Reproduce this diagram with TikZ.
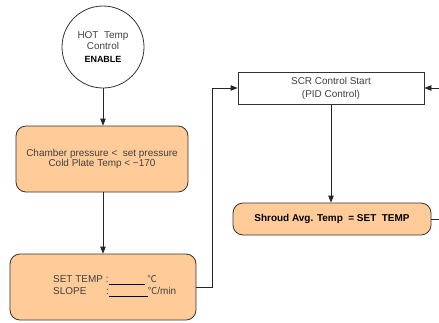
\documentclass[tikz,border=0pt]{standalone}
\usepackage{fontspec}
\setmainfont{Liberation Sans}
\newfontfamily\cjk{Noto Sans CJK SC}
\usetikzlibrary{arrows.meta}
\definecolor{peach}{HTML}{FFCC99}
\newcommand\degc{{\cjk\fontsize{9.5}{9.5}\selectfont ℃}}
\begin{document}
\begin{tikzpicture}[x=1bp, y=-1bp,
  font=\fontsize{10}{10}\selectfont,
  wire/.style={draw=black!85, line width=0.8bp},
  flow/.style={wire, -{Triangle[length=7bp,width=5.5bp]}},
  orangebox/.style={draw=black!80, line width=0.8bp, fill=peach,
    rounded corners=10bp, inner sep=0pt, text=black!75, align=center},
  plainbox/.style={draw=black!80, line width=0.8bp, fill=white,
    inner sep=0pt, text=black!75, align=center}]
\useasboundingbox (0,0) rectangle (439,322);

% start circle
\node[circle, draw=black!80, line width=0.8bp, minimum size=82bp, inner sep=0pt,
      align=center, text=black!75, font=\fontsize{10}{11}\selectfont] (hot) at (103,47)
  {HOT\ \ Temp\\Control\hspace*{8bp}\\[1.5bp]{\color{black}\fontsize{9}{9}\selectfont\bfseries ENABLE}};

% condition box
\node[orangebox, minimum width=172bp, minimum height=66bp] (cond) at (102,159)
  {Chamber pressure <\ \ set pressure\\Cold Plate Temp < −170};

% set-point box
\node[orangebox, minimum width=186bp, minimum height=66bp] (setb) at (103,287) {};
\node[anchor=west, inner sep=0pt, align=left, text=black!75,
      font=\fontsize{10}{12}\selectfont] (setlbl) at (53,286)
  {SET TEMP\ :\textcolor{black}{\rule[-1.5bp]{36bp}{0.7bp}}\ \degc\\
   \makebox[53bp][l]{SLOPE}:\textcolor{black}{\rule[-1.5bp]{39bp}{0.7bp}}\degc/min};

% SCR control box
\node[plainbox, minimum width=186bp, minimum height=32bp,
      font=\fontsize{10}{13}\selectfont] (scr) at (331,88)
  {SCR Control Start\\(PID Control)};

% shroud temperature check
\node[orangebox, minimum width=198bp, minimum height=32bp, text=black,
      font=\fontsize{10}{10}\selectfont\bfseries] (shroud) at (332,219)
  {Shroud Avg. Temp\ \ = SET\ \ TEMP};

% free ends on the right edge
\coordinate (rin) at (439,88);
\coordinate (rout) at (439,219);

% connectors
\draw[flow] (hot.south) -- (hot.south |- cond.north);
\draw[flow] (cond.south -| hot.south) -- (setb.north -| hot.south);
\draw[flow] (setb.east) -- ++(16,0) |- (scr.west);
\draw[flow] (scr.south) -- (scr.south |- shroud.north);
\draw[flow] (rin) -- (scr.east);
\draw[wire] (shroud.east) -- (rout);
\end{tikzpicture}
\end{document}
